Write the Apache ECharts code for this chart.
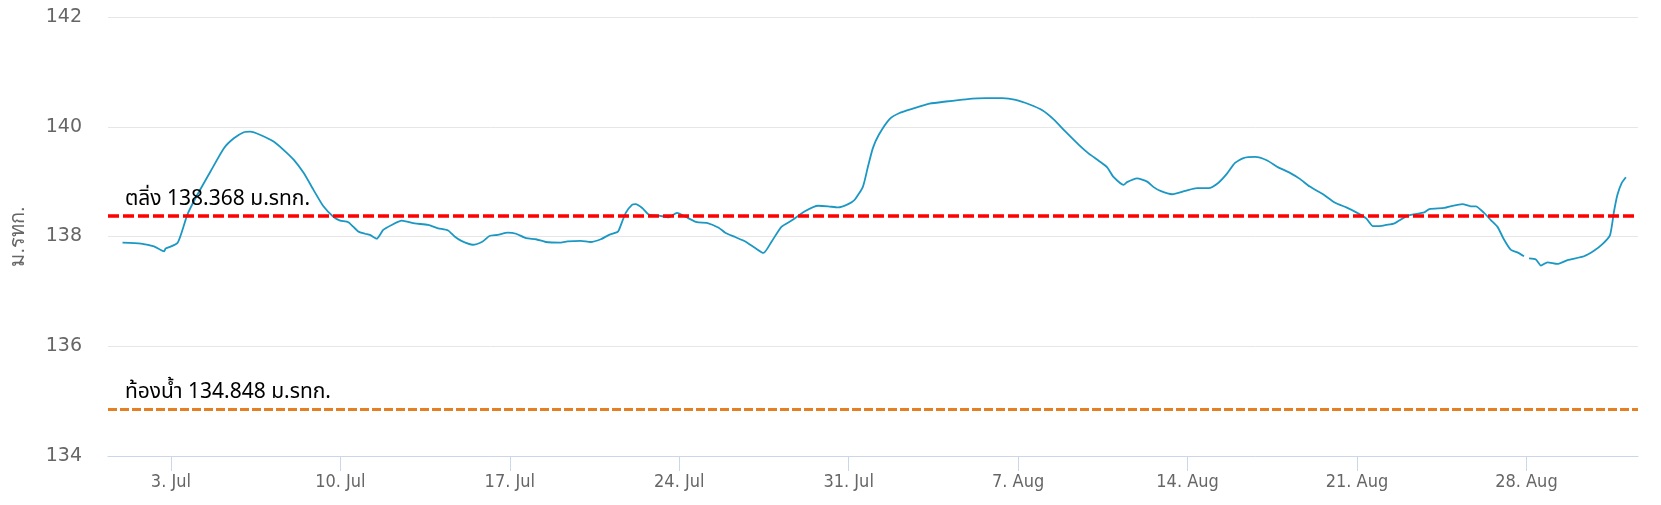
<!DOCTYPE html>
<html>
<head>
<meta charset="utf-8">
<script src="https://cdn.jsdelivr.net/npm/echarts@6/dist/echarts.min.js"></script>
<style>
  html, body { margin: 0; padding: 0; background: #fff; }
  #chart { width: 1661px; height: 505px; }
</style>
</head>
<body>
<div id="chart"></div>
<script>
// Start of data: 1 Jul 2023 00:00 (UTC)
const startDate = Date.UTC(2023, 6, 1);
const DAY = 86400000;

// Offsets (days from 1 Jul) and water levels (m MSL); null = gap
const dayOffsets = [
  0.00, 0.76, 1.30, 1.72, 1.78, 2.27, 2.68, 3.09, 3.64, 4.19, 4.60, 5.01, 5.28, 5.70, 6.24, 6.65,
  7.07, 7.48, 7.89, 8.30, 8.71, 8.99, 9.33, 9.74, 10.02, 10.22, 10.50, 10.77, 11.12, 11.53, 12.07,
  12.62, 13.04, 13.45, 13.72, 14.00, 14.47, 14.88, 15.16, 15.50, 15.91, 16.26, 16.67, 17.08, 17.49,
  18.11, 18.38, 18.93, 19.34, 19.76, 20.10, 20.44, 20.51, 20.79, 21.06, 21.20, 21.47, 21.75, 22.16,
  22.57, 22.91, 23.26, 23.73, 24.14, 24.63, 24.90, 25.31, 25.73, 26.14, 26.48, 26.82, 27.23, 27.64,
  28.19, 28.74, 29.15, 29.56, 29.98, 30.25, 30.59, 30.80, 31.00, 31.24, 31.69, 32.10, 32.65, 33.34,
  34.02, 34.84, 35.67, 36.35, 36.90, 37.45, 38.00, 38.48, 38.96, 39.51, 39.92, 40.33, 40.68, 40.95,
  41.36, 41.50, 41.91, 42.33, 42.60, 42.88, 43.36, 43.91, 44.39, 44.87, 45.28, 45.62, 45.96, 46.31,
  46.79, 47.27, 47.75, 48.23, 48.64, 49.05, 49.60, 50.08, 50.56, 50.97, 51.38, 51.66, 51.93, 52.21,
  52.55, 53.10, 53.78, 53.99, 54.61, 54.95, 55.36, 55.70, 55.91, 56.25, 56.53, 56.80, 57.08, 57.35,
  57.63, 57.90, 58.00, 58.11, 58.39, 58.60, 58.87, 59.28, 59.70, 60.38, 60.79, 61.14, 61.45, 61.62,
  61.76, 61.93, 62.11
];
const levels = [
  137.89, 137.87, 137.82, 137.73, 137.78, 137.88, 138.40, 138.76, 139.19, 139.61, 139.79, 139.90, 139.91, 139.85, 139.73, 139.58,
  139.40, 139.16, 138.85, 138.55, 138.36, 138.29, 138.26, 138.09, 138.05, 138.03, 137.96, 138.12, 138.21, 138.29, 138.24,
  138.21, 138.15, 138.11, 138.00, 137.92, 137.85, 137.91, 138.01, 138.03, 138.07, 138.05, 137.97, 137.95, 137.90,
  137.89, 137.91, 137.92, 137.90, 137.95, 138.03, 138.08, 138.12, 138.43, 138.58, 138.59, 138.52, 138.40, 138.38,
  138.35, 138.43, 138.36, 138.26, 138.25, 138.16, 138.07, 137.99, 137.91, 137.79, 137.70, 137.91, 138.18, 138.29,
  138.46, 138.56, 138.55, 138.53, 138.59, 138.67, 138.91, 139.28, 139.61, 139.85, 140.14, 140.25, 140.33, 140.42,
  140.46, 140.50, 140.52, 140.52, 140.49, 140.41, 140.30, 140.13, 139.91, 139.67, 139.51, 139.38, 139.26, 139.08,
  138.94, 138.99, 139.06, 139.00, 138.90, 138.83, 138.77, 138.83, 138.88, 138.88, 138.98, 139.14, 139.34, 139.43,
  139.45, 139.39, 139.26, 139.16, 139.05, 138.91, 138.77, 138.62, 138.53, 138.44, 138.33, 138.19, 138.19, 138.21,
  138.24, 138.38, 138.44, 138.50, 138.52, 138.56, 138.59, 138.55, 138.55, 138.43, 138.30, 138.18, 137.94, 137.76,
  137.71, 137.64, null, 137.60, 137.58, 137.47, 137.53, 137.50, 137.57, 137.64, 137.74, 137.86, 138.02, 138.46,
  138.76, 138.97, 139.08
];

// Axis settings
const yTicks = [134, 136, 138, 140, 142];
const xTickDates = ['2023-07-03', '2023-07-10', '2023-07-17', '2023-07-24', '2023-07-31',
                    '2023-08-07', '2023-08-14', '2023-08-21', '2023-08-28'];
const monthNames = ['Jan','Feb','Mar','Apr','May','Jun','Jul','Aug','Sep','Oct','Nov','Dec'];

// Reference levels
const bankLevel = 138.368;
const bedLevel = 134.848;
const bankLabel = 'ตลิ่ง 138.368 ม.รทก.';
const bedLabel = 'ท้องน้ำ 134.848 ม.รทก.';
const yAxisTitle = 'ม.รทก.';

const seriesData = dayOffsets.map((d, i) => [startDate + d * DAY, levels[i]]);
const xTickValues = xTickDates.map(s => Date.parse(s + 'T00:00:00Z'));

const chart = echarts.init(document.getElementById('chart'), null, { renderer: 'canvas' });
chart.setOption({
  animation: false,
  backgroundColor: '#ffffff',
  grid: { left: 102, right: 23, top: 17, bottom: 49, containLabel: false },
  xAxis: {
    type: 'value',
    min: startDate - 0.60 * DAY,
    max: startDate + 62.61 * DAY,
    axisLine: { show: true, lineStyle: { color: '#ccd6eb', width: 1 } },
    axisTick: { show: true, length: 15, lineStyle: { color: '#ccd6eb', width: 1 }, customValues: xTickValues },
    splitLine: { show: false },
    axisLabel: {
      customValues: xTickValues,
      color: '#666666',
      fontSize: 18,
      fontFamily: '"Liberation Sans Narrow", "DejaVu Sans Condensed", "Liberation Sans", sans-serif',
      margin: 17,
      formatter: v => { const d = new Date(v); return d.getUTCDate() + '. ' + monthNames[d.getUTCMonth()]; }
    }
  },
  yAxis: {
    type: 'value',
    min: 134, max: 142, interval: 2,
    name: yAxisTitle,
    nameLocation: 'middle',
    nameGap: 80,
    nameRotate: 90,
    nameTextStyle: { color: '#666666', fontSize: 20, fontFamily: 'sans-serif' },
    axisLine: { show: false },
    axisTick: { show: false },
    axisLabel: { color: '#666666', fontSize: 19, margin: 26, fontFamily: '"DejaVu Sans", sans-serif',
      padding: [3, 0, 0, 0], formatter: v => String(v) },
    splitLine: { show: true, lineStyle: { color: '#e6e6e6', width: 1 } }
  },
  series: [{
    type: 'line',
    data: seriesData,
    showSymbol: false,
    connectNulls: false,
    smooth: 0.2,
    lineStyle: { color: '#1b97c3', width: 1.8 },
    itemStyle: { color: '#1b97c3' },
    markLine: {
      silent: true,
      symbol: ['none', 'none'],
      animation: false,
      data: [
        {
          yAxis: bankLevel,
          lineStyle: { color: '#ff0000', width: 3.5, type: [11, 4] },
          label: {
            show: true, position: 'insideStartTop', formatter: bankLabel,
            color: '#000000', fontSize: 21, distance: [17, 5],
            fontFamily: 'Tahoma, "Noto Sans Thai", sans-serif'
          }
        },
        {
          yAxis: bedLevel,
          lineStyle: { color: '#e67e22', width: 3, type: [9, 3] },
          label: {
            show: true, position: 'insideStartTop', formatter: bedLabel,
            color: '#000000', fontSize: 21, distance: [17, 5],
            fontFamily: 'Tahoma, "Noto Sans Thai", sans-serif'
          }
        }
      ]
    }
  }]
});
</script>
</body>
</html>
